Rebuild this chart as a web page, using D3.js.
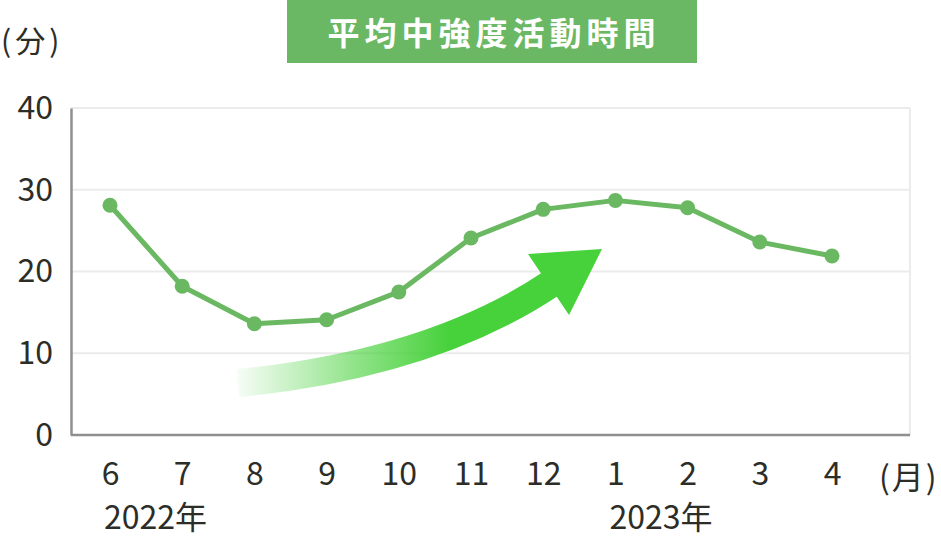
<!DOCTYPE html>
<html><head><meta charset="utf-8">
<script src="https://cdn.jsdelivr.net/npm/d3@7"></script>
<style>
html,body{margin:0;padding:0;background:#fff;}
svg{display:block;}
text{font-family:"Noto Sans CJK JP","Noto Sans",sans-serif;}
</style></head>
<body>
<svg id="chart" width="941" height="539"></svg>
<script>
const title = "平均中強度活動時間";
const months = ["6","7","8","9","10","11","12","1","2","3","4"];
const values = [28.1, 18.2, 13.6, 14.1, 17.5, 24.1, 27.6, 28.7, 27.8, 23.6, 21.9];
const yTicks = [0, 10, 20, 30, 40];
const yearLabels = [{at:"6", text:"2022年"}, {at:"1", text:"2023年"}];
const yUnit = "(分)";
const xUnit = "(月)";

(function(){
const svg = d3.select("#chart");
const pLeft = 71, pRight = 910, pTop = 108, pBottom = 435;
const textColor = "#2d2d28";
const lineColor = "#6ab862";
const font = '"Noto Sans CJK JP","Noto Sans",sans-serif';

const x = d3.scalePoint().domain(months).range([110, 832]);
const y = d3.scaleLinear().domain([0, 40]).range([pBottom, pTop]);

// title
svg.append("rect").attr("x", 287).attr("y", 0).attr("width", 410).attr("height", 63).attr("fill", "#6bb864");
svg.append("text").attr("x", 494).attr("y", 45).attr("text-anchor", "middle")
  .attr("fill", "#fff").attr("font-size", 32).attr("font-weight", 700).attr("letter-spacing", 5)
  .text(title);

// gridlines
svg.append("g").selectAll("line").data(yTicks.filter(d => d > 0)).join("line")
  .attr("x1", pLeft).attr("x2", pRight).attr("y1", d => y(d)).attr("y2", d => y(d))
  .attr("stroke", "#ebebeb").attr("stroke-width", 2);
svg.append("line").attr("x1", pRight).attr("x2", pRight).attr("y1", pTop).attr("y2", pBottom)
  .attr("stroke", "#ebebeb").attr("stroke-width", 2);

// y axis
const yAxis = svg.append("g").attr("transform", `translate(${pLeft},0)`)
  .call(d3.axisLeft(y).tickValues(yTicks).tickSize(0).tickPadding(18));
yAxis.select(".domain").attr("stroke", "#8f8f8f").attr("stroke-width", 2.5);
yAxis.selectAll("text").attr("font-size", 32).attr("fill", textColor).attr("font-family", font);

// x axis
const xAxis = svg.append("g").attr("transform", `translate(0,${pBottom})`)
  .call(d3.axisBottom(x).tickSize(0).tickPadding(27));
xAxis.select(".domain").attr("d", `M${pLeft},0H${pRight}`).attr("stroke", "#8f8f8f").attr("stroke-width", 2.5);
xAxis.selectAll("text").attr("font-size", 32).attr("fill", textColor).attr("font-family", font);

// units
svg.append("text").attr("x", 1).attr("y", 52).attr("font-size", 30).attr("letter-spacing", 4)
  .attr("fill", textColor).text(yUnit);
svg.append("text").attr("x", 879).attr("y", 489).attr("font-size", 32).attr("letter-spacing", 2)
  .attr("fill", textColor).text(xUnit);

// year labels
svg.append("g").selectAll("text").data(yearLabels).join("text")
  .attr("x", d => x(d.at) - 6).attr("y", 529).attr("font-size", 32).attr("fill", textColor)
  .text(d => d.text);

// arrow with gradient
const defs = svg.append("defs");
const grad = defs.append("linearGradient").attr("id", "ag").attr("gradientUnits", "userSpaceOnUse")
  .attr("x1", 238).attr("y1", 0).attr("x2", 450).attr("y2", 0);
grad.append("stop").attr("offset", 0).attr("stop-color", "#47d13b").attr("stop-opacity", 0.05);
grad.append("stop").attr("offset", 0.55).attr("stop-color", "#47d13b").attr("stop-opacity", 0.6);
grad.append("stop").attr("offset", 1).attr("stop-color", "#47d13b").attr("stop-opacity", 1);
const arrow = svg.append("g");
const p = d3.path();
p.moveTo(238, 383); p.quadraticCurveTo(431, 364, 552, 283);
arrow.append("path").attr("d", p.toString()).attr("fill", "none").attr("stroke", "url(#ag)").attr("stroke-width", 28);
arrow.append("path").attr("d", "M528,254L602,249L569,315Z").attr("fill", "#47d13b");

// line + markers
const line = d3.line().x((d, i) => x(months[i])).y(d => y(d));
svg.append("path").datum(values).attr("d", line).attr("fill", "none")
  .attr("stroke", lineColor).attr("stroke-width", 5).attr("stroke-linejoin", "round");
svg.append("g").selectAll("circle").data(values).join("circle")
  .attr("cx", (d, i) => x(months[i])).attr("cy", d => y(d)).attr("r", 7.5).attr("fill", lineColor);
})();
</script>
</body></html>
